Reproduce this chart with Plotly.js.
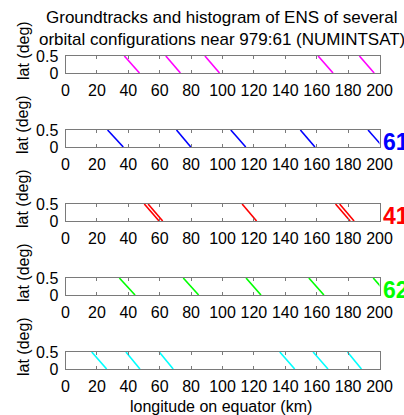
<!DOCTYPE html>
<html><head><meta charset="utf-8">
<script src="https://cdn.plot.ly/plotly-3.0.1.min.js"></script>
<style>html,body{margin:0;padding:0;background:#fff}</style>
</head><body><div id="chart" style="width:404px;height:415px"></div>
<script>
// Longitude (km) where each groundtrack crosses the top (lat 0.5) and bottom (lat 0) of the window
const lonTop1 = [37.5, 63.9, 88.8, 160.9, 187.2];
const lonBot1 = [47.1, 73.2, 98.1, 170.4, 196.6];
const lonTop2 = [26.8, 70.7, 105.3, 149.6, 192.7];
const lonBot2 = [36.8, 79.8, 114.8, 158.9, 202.2];
const lonTop3 = [50.2, 52.6, 112.5, 172.0, 174.6];
const lonBot3 = [59.6, 61.9, 121.7, 181.3, 183.8];
const lonTop4 = [34.3, 75.0, 115.0, 155.0, 196.0];
const lonBot4 = [44.3, 84.8, 124.5, 164.6, 205.5];
const lonTop5 = [16.7, 38.5, 59.7, 136.5, 157.7, 179.6];
const lonBot5 = [26.2, 47.4, 68.6, 146.0, 167.2, 188.5];
const latTop = 0.5, latBot = 0;
const panelColors = ["#ff00ff", "#0000ff", "#ff0000", "#00ff00", "#00ffff"];
const panelTags = ["", "61", "41", "62", ""];
const xTickVals = [0, 20, 40, 60, 80, 100, 120, 140, 160, 180, 200];
const yTickVals = [0, 0.5];
const yTickText = ["0", "0.5"];
const titleLines = ["Groundtracks and histogram of ENS of several", "orbital configurations near 979:61 (NUMINTSAT)"];
const xLabel = "longitude on equator (km)";
const yLabel = "lat (deg)";

const tops = [lonTop1, lonTop2, lonTop3, lonTop4, lonTop5];
const bots = [lonBot1, lonBot2, lonBot3, lonBot4, lonBot5];

const W = 404, H = 415;
const FONT = "Liberation Sans, Arial, sans-serif";
const FS = 16;
const xDom = [65.5 / W, 379.5 / W];
const panelTopPx = [56, 130, 204, 278, 352];
const panelH = 17;

const traces = [];
const layout = {
  width: W, height: H,
  margin: {l: 0, r: 0, t: 0, b: 0},
  paper_bgcolor: "#fff", plot_bgcolor: "#fff",
  showlegend: false,
  font: {family: FONT, size: FS, color: "#000"},
  annotations: []
};

for (let k = 0; k < 5; k++) {
  const xs = [], ys = [];
  tops[k].forEach((t, i) => { xs.push(t, bots[k][i], null); ys.push(latTop, latBot, null); });
  const n = k === 0 ? "" : String(k + 1);
  traces.push({
    x: xs, y: ys, type: "scatter", mode: "lines",
    line: {color: panelColors[k], width: 1.6},
    xaxis: "x" + n, yaxis: "y" + n, hoverinfo: "skip"
  });
  const t = panelTopPx[k], b = t + panelH;
  const common = {
    showline: true, mirror: "ticks", linecolor: "#7a7a7a", linewidth: 1,
    ticks: "inside", tickcolor: "#7a7a7a", showgrid: false, zeroline: false,
    tickfont: {family: FONT, size: FS, color: "#000"}, fixedrange: true
  };
  layout["xaxis" + n] = Object.assign({}, common, {
    domain: xDom, range: [0, 200], tickvals: xTickVals, ticklen: 3,
    anchor: "y" + n, ticklabelstandoff: 3
  });
  layout["yaxis" + n] = Object.assign({}, common, {
    domain: [1 - b / H, 1 - t / H], range: [0, 0.5], tickvals: yTickVals,
    ticktext: yTickText, ticklen: 0, anchor: "x" + n, ticklabelstandoff: 3
  });
  layout.annotations.push({
    text: yLabel, xref: "paper", yref: "paper", x: 23 / W, y: 1 - (t - 5) / H,
    showarrow: false, textangle: -90, font: {family: FONT, size: FS, color: "#000"},
    xanchor: "center", yanchor: "middle"
  });
  if (panelTags[k]) {
    layout.annotations.push({
      text: "<b>" + panelTags[k] + "</b>", xref: "paper", yref: "paper",
      x: 381 / W, y: 1 - (t + 12) / H, showarrow: false,
      font: {family: FONT, size: 23, color: panelColors[k]},
      xanchor: "left", yanchor: "middle"
    });
  }
}
titleLines.forEach((s, i) => {
  layout.annotations.push({
    text: s, xref: "paper", yref: "paper", x: 222 / W, y: 1 - (17.5 + 22 * i) / H,
    showarrow: false, font: {family: FONT, size: 17, color: "#000"},
    xanchor: "center", yanchor: "middle"
  });
});
layout.annotations.push({
  text: xLabel, xref: "paper", yref: "paper", x: 221 / W, y: 1 - 406 / H,
  showarrow: false, font: {family: FONT, size: FS, color: "#000"},
  xanchor: "center", yanchor: "middle"
});

Plotly.newPlot("chart", traces, layout, {staticPlot: true, displayModeBar: false});
</script></body></html>
